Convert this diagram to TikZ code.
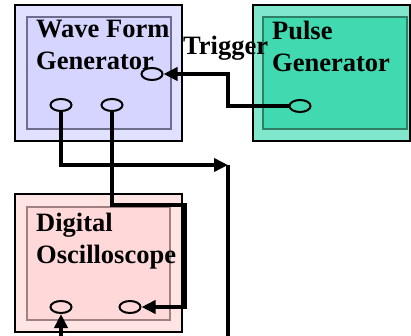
\documentclass[tikz,border=0pt]{standalone}
\usepackage{fontspec}
\setmainfont{Liberation Serif}
\usetikzlibrary{shapes.geometric,arrows.meta}

\definecolor{wfgout}{HTML}{E1E1FF}
\definecolor{wfgin}{HTML}{D5D5FF}
\definecolor{wfgline}{HTML}{6E6E8C}
\definecolor{pgout}{HTML}{80E6CC}
\definecolor{pgin}{HTML}{40D9B0}
\definecolor{pgline}{HTML}{2E7D64}
\definecolor{oscout}{HTML}{FFE4E4}
\definecolor{oscin}{HTML}{FFD9D9}
\definecolor{oscline}{HTML}{A08080}

\begin{document}
\begin{tikzpicture}[x=1pt,y=-1pt,
    outerbox/.style={draw=black, line width=2.5pt, inner sep=0pt},
    innerbox/.style={line width=2pt, inner sep=0pt},
    label/.style={font=\fontsize{26.5}{32}\selectfont\bfseries, align=left, anchor=base west, inner sep=0pt},
    port/.style={draw, ellipse, line width=2pt, inner sep=0pt, minimum width=21pt, minimum height=12pt},
    wire/.style={line width=3.5pt},
    tip/.style={-{Triangle[length=14pt,width=13pt]}}]
      % \draw[help lines, gray!50, very thin] (0,0) grid[step=20] (411,336);
      \useasboundingbox (0,0) rectangle (411,336);

      % wave form generator
      \node[outerbox, fill=wfgout, minimum width=167pt, minimum height=136pt] (wfg) at (98.5,73) {};
      \node[innerbox, draw=wfgline, fill=wfgin, minimum width=144pt, minimum height=112pt] (wfgin) at (99,73) {};
      \node[label] (wfgtext) at (36,70) {Wave Form\\Generator};
      \node[port] (wtrig) at (152,74) {};
      \node[port] (wleft) at (61,105) {};
      \node[port] (wright) at (112,105) {};

      % pulse generator
      \node[outerbox, fill=pgout, minimum width=157pt, minimum height=136pt] (pg) at (331.5,73) {};
      \node[innerbox, draw=pgline, fill=pgin, minimum width=144pt, minimum height=112pt] (pgin) at (335,73) {};
      \node[label] (pgtext) at (272,72) {Pulse\\Generator};
      \node[port] (pport) at (300,106) {};

      % digital oscilloscope
      \node[outerbox, fill=oscout, minimum width=167pt, minimum height=138pt] (osc) at (98.5,263) {};
      \node[innerbox, draw=oscline, fill=oscin, minimum width=143pt, minimum height=113pt] (oscin) at (98.5,263.5) {};
      \node[label] (osctext) at (36,263) {Digital\\Oscilloscope};
      \node[port] (oleft) at (61,307) {};
      \node[port] (oright) at (130,307) {};

      \node[label] (trig) at (183,55) {Trigger};

      \coordinate (bus) at (228,165);
      \coordinate (busend) at (228,336);
      \coordinate (oinput) at (61,336);

      % connections
      \draw[wire, tip] (pport.west) -- (228,106) |- (wtrig.east);
      \draw[wire, tip] (wleft.south) |- (bus);
      \draw[wire] (bus) -- (busend);
      \draw[wire, tip] (wright.south) |- (185,205) |- (oright.east);
      \draw[wire, tip] (oinput) -- (oleft.south);
\end{tikzpicture}
\end{document}
